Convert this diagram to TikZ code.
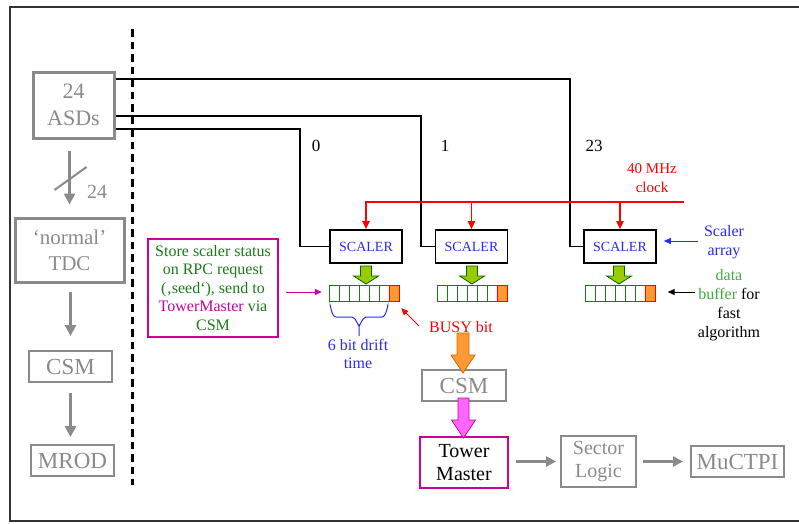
\documentclass[tikz,border=0pt]{standalone}
\usepackage{fontspec}
\setmainfont{Liberation Serif}
\usetikzlibrary{calc,arrows.meta}
\definecolor{grayc}{HTML}{8A8A8A}
\definecolor{magc}{HTML}{CC0099}
\definecolor{dgreen}{HTML}{1A7A1A}
\definecolor{lgreen}{HTML}{44A844}
\definecolor{bluec}{HTML}{2B2BF0}
\definecolor{orangec}{HTML}{FF9933}
\definecolor{limec}{HTML}{99CC00}
\definecolor{pinkc}{HTML}{FF66FF}
\newcommand\fs[2]{\fontsize{#1}{#2}\selectfont}
\newcommand\FatArrow[7]{\filldraw[#1] ({#2-#6},#3) -- ({#2+#6},#3) -- ({#2+#6},#4) -- ({#2+#7},#4) -- (#2,#5) -- ({#2-#7},#4) -- ({#2-#6},#4) -- cycle;}
\newcommand\DataBuffer[3]{%
  \node[minimum width=70pt,minimum height=16pt,inner sep=0pt] (#1) at (#2,#3) {};
  \foreach \i in {0,...,5} \draw[cell] ({#2-35+10*\i},{#3-8}) rectangle +(10,16);
  \draw[busycell] ({#2+25},{#3-8}) rectangle +(10,16);}
\begin{document}
\begin{tikzpicture}[x=1pt,y=-1pt,
  gbox/.style={draw=grayc,text=grayc,line width=2pt,inner sep=0pt,align=center},
  gboxthick/.style={gbox,line width=3pt},
  garrow/.style={draw=grayc,line width=3.5pt,-{Triangle[length=11pt,width=11pt]}},
  wire/.style={line width=1.6pt,black},
  clk/.style={line width=1.8pt,red},
  clkarrow/.style={clk,-{Triangle[length=8pt,width=7pt]}},
  scaler/.style={draw=black,line width=1.6pt,minimum width=72pt,minimum height=33pt,inner sep=0pt,text=bluec,font=\fs{14}{16}},
  cell/.style={draw=dgreen,line width=1pt,fill=white},
  busycell/.style={draw=red,line width=1pt,fill=orangec},
  greenfa/.style={draw=green!40!black,line width=0.8pt,fill=limec},
  orangefa/.style={draw=orange!80!black,line width=0.8pt,fill=orangec},
  pinkfa/.style={draw=magc,line width=0.8pt,fill=pinkc},
  thinarrow/.style={line width=1pt,-{Triangle[length=7pt,width=6pt]}},
  lbl/.style={inner sep=0pt,align=center}]
\useasboundingbox (0,0) rectangle (799,523);
% frame
\draw[line width=1.5pt,black!80] (799,7) -- (10,7) -- (10,521) -- (799,521);
% dashed separator
\draw[line width=3pt,dash pattern=on 7.5pt off 5pt] (132,29) -- (132,485);
% left column
\node[gboxthick,minimum width=81pt,minimum height=66pt,font=\fs{22}{27}] (asd) at (73.5,105) {24\\ASDs};
\node[gboxthick,minimum width=109pt,minimum height=64pt,font=\fs{21}{26}] (tdc) at (69.5,250) {‘normal’\\TDC};
\node[gbox,minimum width=83pt,minimum height=31pt,font=\fs{23}{26}] (csmL) at (70.5,366.5) {CSM};
\node[gbox,minimum width=83pt,minimum height=31pt,font=\fs{23}{26}] (mrod) at (72.5,460.5) {MROD};
\draw[garrow,shorten <=11pt,shorten >=12pt] (tdc.north |- asd.south) -- (tdc.north);
\coordinate (slashc) at ($(tdc.north |- asd.south)!0.5!(tdc.north)$);
\draw[draw=grayc,line width=2pt] ($(slashc)+(-15,12)$) -- ($(slashc)+(17,-11)$);
\node[lbl,text=grayc,font=\fs{20}{22}] (n24) at (97,192) {24};
\draw[garrow,shorten <=8pt,shorten >=14pt] (csmL.north |- tdc.south) -- (csmL.north);
\draw[garrow,shorten <=10pt,shorten >=7pt] (csmL.south) -- (csmL.south |- mrod.north);
% scalers
\node[scaler] (sc1) at (366,246.5) {SCALER};
\node[scaler] (sc2) at (471.5,246.5) {SCALER};
\node[scaler] (sc3) at (620,246.5) {SCALER};
% wires from ASDs
\coordinate (k3) at (570,79);
\coordinate (k2) at (421,116);
\coordinate (k1) at (300,129);
\draw[wire] (asd.east |- k3) -- (k3) |- (sc3.west);
\draw[wire] (asd.east |- k2) -- (k2) |- (sc2.west);
\draw[wire] (asd.east |- k1) -- (k1) |- (sc1.west);
\node[lbl,font=\fs{17}{19}] (l0) at (316,146) {0};
\node[lbl,font=\fs{17}{19}] (l1) at (445,146) {1};
\node[lbl,font=\fs{17}{19}] (l23) at (594,146) {23};
% clock
\coordinate (clkR) at (684,202);
\draw[clkarrow] (clkR) -- (sc1.north |- clkR) -- (sc1.north);
\draw[clkarrow] (sc2.north |- clkR) -- (sc2.north);
\draw[clkarrow] (sc3.north |- clkR) -- (sc3.north);
\node[lbl,text=red,font=\fs{15}{19}] (clkl) at (652,178) {40 MHz\\clock};
% green arrows and buffers
\FatArrow{greenfa}{366}{266}{276}{284}{5.5}{12.5}
\FatArrow{greenfa}{472}{266}{276}{284}{5.5}{12.5}
\FatArrow{greenfa}{619}{266}{276}{284}{5.5}{12.5}
\DataBuffer{buf1}{364}{293}
\DataBuffer{buf2}{472}{293}
\DataBuffer{buf3}{620.5}{293}
% brace
\draw[bluec,line width=1pt] (330,306) to[out=90,in=180] (336,317) -- (352,317) to[out=0,in=-90] (359,325) -- (359,336);
\draw[bluec,line width=1pt] (388,306) to[out=90,in=0] (382,317) -- (366,317) to[out=180,in=-90] (359,325);
\node[lbl,text=bluec,font=\fs{16}{18}] (drl) at (358,354) {6 bit drift\\time};
% store box
\node[draw=magc,line width=2pt,minimum width=130pt,minimum height=98pt,inner sep=0pt,align=center,text=dgreen,font=\fs{16}{18.5}] (store) at (213,288) {Store scaler status\\on RPC request\\(‚seed‘), send to\\{\color{magc}TowerMaster} via\\CSM};
\draw[thinarrow,magc] ($(store.east)+(7,4)$) -- ($(buf1.west)+(-7,-1)$);
% busy
\node[lbl,text=red,font=\fs{16}{18}] (busy) at (461,327) {BUSY bit};
\draw[thinarrow,red] ($(busy.west)+(-10,-1)$) -- ($(buf1.south east)+(2,7)$);
% csm / tower master chain
\node[gbox,minimum width=84pt,minimum height=31pt,font=\fs{23}{26}] (csmR) at (464,385.5) {CSM};
\FatArrow{orangefa}{463}{333}{355}{373}{6}{12}
\node[draw=magc,line width=2pt,minimum width=88pt,minimum height=51pt,inner sep=0pt,align=center,font=\fs{20}{23}] (tm) at (464,462.5) {Tower\\Master};
\FatArrow{pinkfa}{463.5}{398}{420}{438}{5.5}{12}
\node[gbox,minimum width=75pt,minimum height=51pt,font=\fs{20}{23}] (sl) at (598.5,461.5) {Sector\\Logic};
\node[gbox,minimum width=93pt,minimum height=31pt,font=\fs{23}{26}] (mu) at (737.5,461.5) {MuCTPI};
\draw[garrow,line width=3pt,-{Triangle[length=10pt,width=10pt]},shorten <=7pt,shorten >=4pt] (tm.east |- sl.west) -- (sl.west);
\draw[garrow,line width=3pt,-{Triangle[length=10pt,width=10pt]},shorten <=6pt,shorten >=7pt] (sl.east) -- (mu.west |- sl.east);
% right labels
\node[lbl,text=bluec,font=\fs{16}{18.5}] (sal) at (724,242) {Scaler\\array};
\draw[thinarrow,bluec] ($(sal.west)+(-6,-1)$) -- ($(sc3.east)+(7,-5.5)$);
\node[lbl,font=\fs{16}{19}] (dbl) at (729,305.5) {{\color{lgreen}data}\\{\color{lgreen}buffer} for\\fast\\algorithm};
\draw[thinarrow,black] ($(dbl.west)+(-3,-13.5)$) -- ($(buf3.east)+(12,-1)$);
\end{tikzpicture}
\end{document}
